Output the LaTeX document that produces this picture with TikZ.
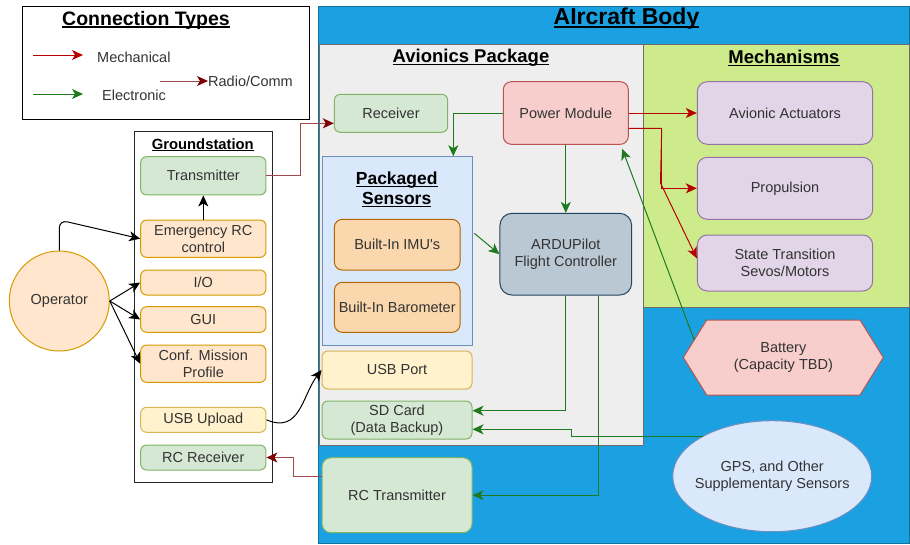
\documentclass[tikz,border=0pt]{standalone}
\usepackage{fontspec}
\setmainfont{Liberation Sans}
\newfontfamily\arialnm{Liberation Sans}
\usetikzlibrary{arrows.meta,shapes.geometric,calc}
\newcommand{\myul}[1]{\setbox0=\hbox{#1}\rlap{\rule[-0.13em]{\wd0}{0.065em}}\box0}
\definecolor{txt}{HTML}{333333}
\definecolor{gfill}{HTML}{D5E8D4}\definecolor{gline}{HTML}{82B366}
\definecolor{rfill}{HTML}{F8CECC}\definecolor{rline}{HTML}{B85450}
\definecolor{ofill}{HTML}{FFE6CC}\definecolor{oline}{HTML}{D79B00}
\definecolor{yfill}{HTML}{FFF2CC}\definecolor{yline}{HTML}{D6B656}
\definecolor{bfill}{HTML}{DAE8FC}\definecolor{bline}{HTML}{6C8EBF}
\definecolor{pfill}{HTML}{E1D5E7}\definecolor{pline}{HTML}{9673A6}
\definecolor{sfill}{HTML}{FAD7AC}\definecolor{sline}{HTML}{B46504}
\definecolor{afill}{HTML}{BAC8D3}\definecolor{aline}{HTML}{23445D}
\definecolor{bodyblue}{HTML}{1BA1E2}\definecolor{bodyline}{HTML}{10739E}
\definecolor{greyfill}{HTML}{EEEEEE}\definecolor{greyline}{HTML}{6D6D6D}
\definecolor{mechfill}{HTML}{CDEB8B}
\definecolor{mechred}{HTML}{B80000}
\definecolor{elecgreen}{HTML}{1F7A1F}
\definecolor{radioline}{HTML}{A0474A}\definecolor{radiohead}{HTML}{7F0000}
\tikzset{
  base/.style={draw, line width=1pt, rounded corners=6pt, align=center, inner sep=2pt,
    text=txt, font=\fontsize{14.5}{17}\selectfont},
  greenbox/.style={base, fill=gfill, draw=gline},
  orangebox/.style={base, fill=ofill, draw=oline},
  yellowbox/.style={base, fill=yfill, draw=yline},
  purplebox/.style={base, fill=pfill, draw=pline, rounded corners=10pt},
  sensorbox/.style={base, fill=sfill, draw=sline, rounded corners=8pt},
  titletext/.style={text=black, align=center},
  legtext/.style={text=txt, font=\fontsize{14.5}{17}\selectfont, inner sep=0pt},
  tip/.style={-{Stealth[length=11pt,width=10pt,inset=3pt]}},
  mech/.style={draw=mechred, line width=1pt, tip},
  elec/.style={draw=elecgreen, line width=1pt, tip},
  radio/.style={draw=radioline, line width=1pt, -{Stealth[length=11pt,width=10pt,inset=3pt,color=radiohead]}},
  blk/.style={draw=black, line width=1pt, tip},
}
\begin{document}
\begin{tikzpicture}[x=1pt,y=-1pt]
\useasboundingbox[fill=white] (0,0) rectangle (910,544);
% containers
\draw[fill=bodyblue, draw=bodyline, line width=1pt] (318,6) rectangle (909,543);
\draw[fill=greyfill, draw=greyline, line width=1pt] (319,44) rectangle (643,445);
\draw[fill=mechfill, draw=greyline, line width=1pt] (643,44) rectangle (909,307);
\draw[fill=white, draw=black, line width=1pt] (22,6) rectangle (309,119);
\draw[fill=white, draw=black!85, line width=1pt] (134.3,131.7) rectangle (272.3,482.7);
\node[draw=bline, fill=bfill, line width=1pt, minimum width=150, minimum height=188.3, inner sep=0pt] (pkg) at (397.3,250.9) {};
% titles
\node[titletext, font=\fontsize{19.5}{22}\selectfont\bfseries] (legtitle) at (146,20) {\myul{Connection Types}};
\node[titletext, font=\fontsize{23}{26}\selectfont\bfseries] (bodytitle) at (626.5,19) {\myul{AIrcraft Body}};
\node[titletext, font=\fontsize{18.5}{21}\selectfont\bfseries] (avtitle) at (471,58) {\myul{Avionics Package}};
\node[titletext, font=\fontsize{18.5}{21}\selectfont\bfseries] (mechtitle) at (784,58) {\myul{Mechanisms}};
\node[titletext, font=\fontsize{17.5}{19.5}\selectfont\bfseries] (pkgtitle) at (396.7,189.5) {\myul{Packaged}\\\myul{Sensors}};
\node[titletext, font=\fontsize{14.8}{17}\selectfont\bfseries] (gstitle) at (202.8,145) {\myul{Groundstation}};
% legend
\coordinate (m1) at (33,55); \coordinate (m2) at (83,55);
\coordinate (e1) at (33,94); \coordinate (e2) at (83,94);
\coordinate (r1) at (160,81);
\node[legtext, anchor=west] (mechtext) at (97,57) {Mechanical};
\node[legtext, anchor=west] (electext) at (102,95) {Electronic};
\node[legtext, anchor=west] (radiotext) at (208,81) {Radio/Comm};
\draw[mech] (m1) -- (m2);
\draw[elec] (e1) -- (e2);
\draw[radio] (r1) -- (radiotext.west);
% groundstation nodes
\node[orangebox, circle, minimum size=100, inner sep=0pt] (op) at (59.3,301) {Operator};
\node[greenbox, minimum width=125.3, minimum height=38.3] (tx) at (203.3,175.8) {Transmitter};
\node[orangebox, minimum width=125.3, minimum height=37.3] (emerg) at (203.3,238.7) {Emergency RC\\control};
\node[orangebox, minimum width=125.3, minimum height=25] (io) at (203.3,282.5) {I/O};
\node[orangebox, minimum width=125.3, minimum height=25.6] (gui) at (203.3,319.5) {GUI};
\node[orangebox, minimum width=125.3, minimum height=37.3] (conf) at (203.3,363.7) {Conf. Mission\\Profile};
\node[yellowbox, minimum width=125.3, minimum height=25] (usbup) at (203.3,419.8) {USB Upload};
\node[greenbox, minimum width=125.3, minimum height=25] (rcrx) at (203.3,457.5) {RC Receiver};
% avionics nodes
\node[greenbox, minimum width=113.4, minimum height=38] (rx) at (391,113.3) {Receiver};
\node[base, fill=rfill, draw=rline, rounded corners=8pt, minimum width=125, minimum height=62.6] (pm) at (565.8,113) {Power Module};
\node[sensorbox, minimum width=125.7, minimum height=50.7] (imu) at (397.2,244.7) {Built-In IMU{\arialnm'}s};
\node[sensorbox, minimum width=125.7, minimum height=50] (baro) at (397.2,307.3) {Built-In Barometer};
\node[base, fill=afill, draw=aline, rounded corners=12pt, minimum width=131.7, minimum height=81.7] (ardu) at (565.8,254.2) {ARDUPilot\\Flight Controller};
\node[yellowbox, minimum width=150, minimum height=38] (usbport) at (397,370) {USB Port};
\node[greenbox, minimum width=150, minimum height=38] (sd) at (397,420) {SD Card\\(Data Backup)};
\node[greenbox, rounded corners=9pt, minimum width=150, minimum height=75] (rctx) at (397,495.2) {RC Transmitter};
% mechanisms
\node[purplebox, minimum width=175.4, minimum height=62.6] (act) at (785,113) {Avionic Actuators};
\node[purplebox, minimum width=175.4, minimum height=62] (prop) at (785,188.3) {Propulsion};
\node[purplebox, minimum width=175.4, minimum height=56] (state) at (785,263) {State Transition\\Sevos/Motors};
% battery
\draw[fill=rfill, draw=rline, line width=1pt] (683.3,357.5) -- (706.7,320) -- (860,320) -- (883.3,357.5) -- (860,395) -- (706.7,395) -- cycle;
\node[base, draw=none, fill=none] (batt) at (783.3,357.5) {Battery\\(Capacity TBD)};
\coordinate (battedge) at (694.2,340);
% gps
\node[ellipse, fill=bfill, draw=bline, line width=1pt, inner sep=0pt, minimum width=199, minimum height=111] (gps) at (772.2,476.2) {};
\node[base, draw=none, fill=none] (gpstext) at (gps.center) {GPS, and Other\\Supplementary Sensors};
% connectors
\draw[blk, rounded corners=8pt] (op.north) -- (59.3,220) -- (emerg.west);
\draw[blk] (op.east) -- (io.west);
\draw[blk] (op.east) -- (gui.west);
\draw[blk] (op.east) -- (conf.west);
\draw[blk] (emerg.north) -- (tx.south);
\draw[blk] (usbup.east) .. controls (300,434) and (302,396) .. (usbport.west);
\draw[radio] (tx.east) -| (300.7,123.3) -- ($(rx.west)+(0,10)$);
\draw[radio] ($(rctx.west)+(0,-19.2)$) -- (293,476) |- (rcrx.east);
\draw[elec] (pm.west) -| ($(pkg.north)+(56,0)$);
\draw[elec] (pm.south) -- (ardu.north);
\draw[elec] ($(pkg.east)+(1.5,-17.6)$) -- (ardu.west);
\draw[elec] (ardu.south) |- ($(sd.east)+(0,-9.3)$);
\draw[elec] ($(ardu.south)+(32.5,0)$) |- (rctx.east);
\draw[elec] (gps.150) -| (571.7,429.3) -- ($(sd.east)+(0,9.3)$);
\draw[elec] (battedge) -- ($(pm.south east)+(-6.6,4)$);
\draw[mech] (pm.east) -- (act.west);
\draw[mech] ($(pm.east)+(0,15.3)$) -- (661.7,128.3) |- (prop.west);
\draw[mech] ($(pm.east)+(0,15.3)$) -- (661.7,128.3) -- (660.5,183) -- ($(state.west)+(0,-4.7)$);
\end{tikzpicture}
\end{document}
